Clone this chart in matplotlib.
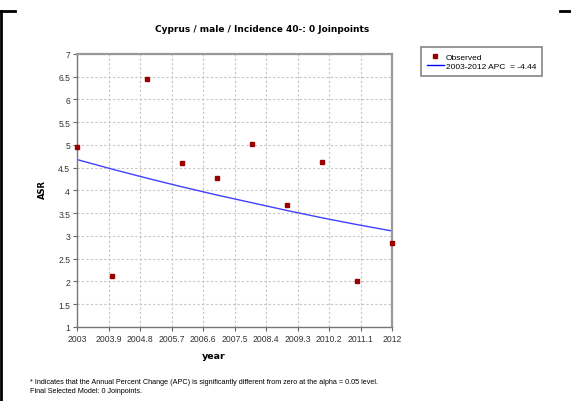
import matplotlib
matplotlib.use("Agg")

import matplotlib.pyplot as plt
import matplotlib.ticker as ticker
from matplotlib.lines import Line2D

years = [2003, 2004, 2005, 2006, 2007, 2008, 2009, 2010, 2011, 2012]
observed = [4.95, 2.11, 6.45, 4.60, 4.27, 5.02, 3.69, 4.62, 2.00, 2.84]
fitted = [4.68, 4.47, 4.27, 4.08, 3.90, 3.73, 3.56, 3.40, 3.25, 3.11]
xticks = [2003, 2003.9, 2004.8, 2005.7, 2006.6, 2007.5, 2008.4, 2009.3, 2010.2, 2011.1, 2012]
yticks = [1, 1.5, 2, 2.5, 3, 3.5, 4, 4.5, 5, 5.5, 6, 6.5, 7]

plt.rcParams["font.family"] = ["Liberation Sans", "DejaVu Sans"]

fig = plt.figure(figsize=(5.71, 4.02), dpi=100)
ax = fig.add_axes([0.1349, 0.1841, 0.5517, 0.6791])

ax.plot(years, fitted, color="#4040ff", lw=1, zorder=2)
ax.plot(years, observed, "s", color="#990000", ms=3.5, zorder=3, clip_on=False)

ax.set_xlim(2003, 2012)
ax.set_ylim(1, 7)
ax.set_xticks(xticks)
ax.set_yticks(yticks)
ax.xaxis.set_major_formatter(ticker.FuncFormatter(lambda x, pos: f"{x:g}"))
ax.yaxis.set_major_formatter(ticker.FuncFormatter(lambda y, pos: f"{y:g}"))
ax.tick_params(labelsize=6.2, length=3, width=0.8, color="#666666", pad=2,
               labelcolor="#333333")

ax.grid(True, color="#c4c4c4", linestyle=(0, (2, 2)), lw=0.8)
ax.set_axisbelow(True)

for s in ["top", "right"]:
    ax.spines[s].set_color("#999999")
    ax.spines[s].set_linewidth(1.6)
for s in ["left", "bottom"]:
    ax.spines[s].set_color("#777777")
    ax.spines[s].set_linewidth(1.0)

fig.text(0.459, 0.927, "Cyprus / male / Incidence 40-: 0 Joinpoints",
         ha="center", va="center", fontsize=6.5, fontweight="bold", family="DejaVu Sans")
fig.text(214 / 571, 1 - 357 / 402, "year", ha="center", va="center",
         fontsize=6.8, fontweight="bold", family="DejaVu Sans")
fig.text(42 / 571, 1 - 190 / 402, "ASR", ha="center", va="center", rotation=90,
         fontsize=6, fontweight="bold", family="DejaVu Sans")

fig.text(30 / 571, 1 - 383 / 402,
         "* Indicates that the Annual Percent Change (APC) is significantly different from zero at the alpha = 0.05 level.",
         ha="left", va="center", fontsize=5.2)
fig.text(30 / 571, 1 - 392 / 402, "Final Selected Model: 0 Joinpoints.",
         ha="left", va="center", fontsize=5.2)

handles = [
    Line2D([], [], marker="s", color="#990000", ls="none", ms=3),
    Line2D([], [], color="#0000ff", lw=1),
]
leg = fig.legend(handles, ["Observed", "2003-2012 APC  = -4.44"],
                 loc="upper left", bbox_to_anchor=(421 / 571, 1 - 48 / 402),
                 fontsize=6, frameon=True, fancybox=False, borderpad=0.7,
                 handlelength=2.0, handletextpad=0.3, labelspacing=0.15,
                 borderaxespad=0)
leg.get_frame().set_edgecolor("#666666")
leg.get_frame().set_linewidth(1.2)

fig.add_artist(Line2D([0, 15 / 571], [1 - 12 / 402, 1 - 12 / 402], color="black", lw=2))
fig.add_artist(Line2D([1 / 571, 1 / 571], [0, 1 - 12 / 402], color="black", lw=2))
fig.add_artist(Line2D([560 / 571, 1], [1 - 12 / 402, 1 - 12 / 402], color="black", lw=2))

fig.savefig("out.png", dpi=100)
